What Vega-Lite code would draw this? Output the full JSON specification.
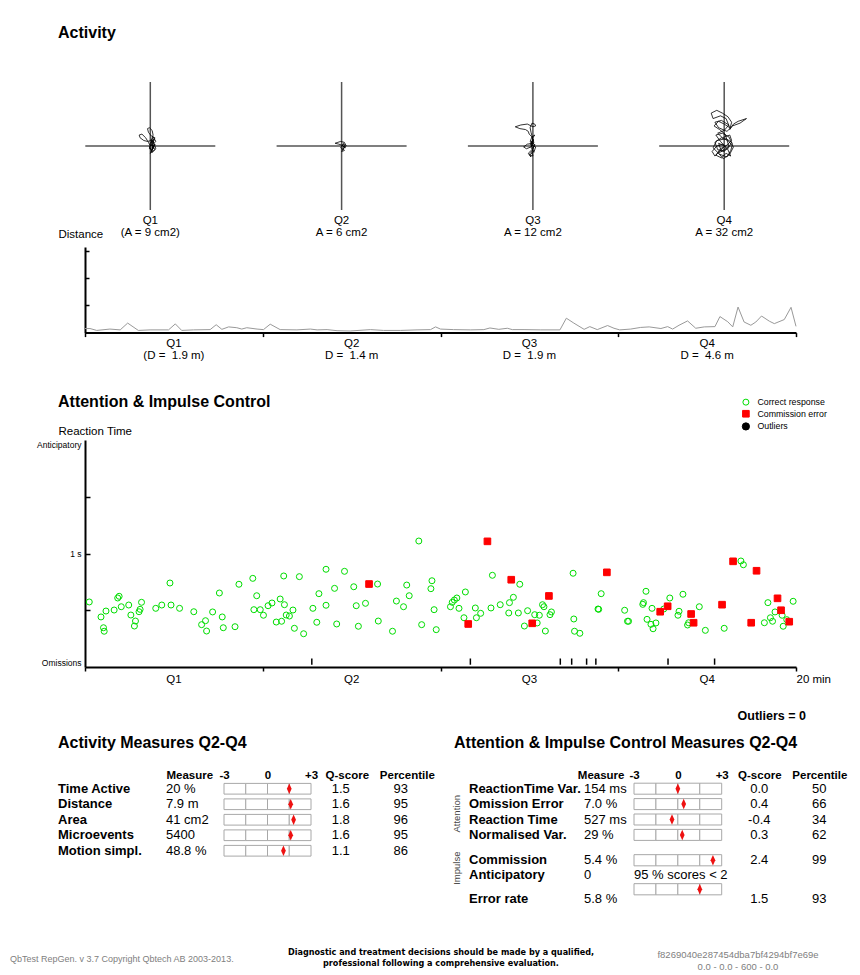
{
"$schema": "https://vega.github.io/schema/vega-lite/v6.json",
"autosize": {"type": "none"},
"padding": {"left": 0, "top": 0, "right": 860, "bottom": 975},
"background": "white",
"config": {"font": "Liberation Sans", "view": {"stroke": null}, "axis": {"grid": false}, "title": {"color": "black"}},
"datasets": {
"trace": [
{"q":"Q1","x":1,"y":0},{"q":"Q1","x":3,"y":6},{"q":"Q1","x":0,"y":3},{"q":"Q1","x":4,"y":8},{"q":"Q1","x":2,"y":-4},{"q":"Q1","x":5,"y":2},{"q":"Q1","x":1,"y":-6},{"q":"Q1","x":4,"y":-1},{"q":"Q1","x":-1,"y":-3},{"q":"Q1","x":3,"y":10},{"q":"Q1","x":6,"y":5},{"q":"Q1","x":2,"y":1},{"q":"Q1","x":5,"y":-4},{"q":"Q1","x":0,"y":-8},{"q":"Q1","x":3,"y":-2},{"q":"Q1","x":1,"y":7},{"q":"Q1","x":4,"y":3},{"q":"Q1","x":6,"y":-3},{"q":"Q1","x":2,"y":-7},{"q":"Q1","x":-1,"y":-1},{"q":"Q1","x":3,"y":4},{"q":"Q1","x":5,"y":9},{"q":"Q1","x":1,"y":11},{"q":"Q1","x":-2,"y":15},{"q":"Q1","x":-3,"y":19},{"q":"Q1","x":-1,"y":20},{"q":"Q1","x":2,"y":17},{"q":"Q1","x":3,"y":12},{"q":"Q1","x":1,"y":6},{"q":"Q1","x":-3,"y":5},{"q":"Q1","x":-7,"y":6},{"q":"Q1","x":-11,"y":9},{"q":"Q1","x":-12,"y":12},{"q":"Q1","x":-9,"y":13},{"q":"Q1","x":-5,"y":9},{"q":"Q1","x":-2,"y":4},{"q":"Q1","x":0,"y":0},{"q":"Q1","x":4,"y":1},{"q":"Q1","x":2,"y":-5},{"q":"Q1","x":0,"y":-2},
{"q":"Q2","x":0,"y":0},{"q":"Q2","x":2,"y":3},{"q":"Q2","x":4,"y":1},{"q":"Q2","x":1,"y":-2},{"q":"Q2","x":3,"y":-5},{"q":"Q2","x":0,"y":-6},{"q":"Q2","x":2,"y":-3},{"q":"Q2","x":5,"y":0},{"q":"Q2","x":3,"y":4},{"q":"Q2","x":-1,"y":5},{"q":"Q2","x":-4,"y":4},{"q":"Q2","x":-7,"y":3},{"q":"Q2","x":-3,"y":2},{"q":"Q2","x":0,"y":1},{"q":"Q2","x":3,"y":-1},{"q":"Q2","x":1,"y":-4},{"q":"Q2","x":-1,"y":-2},{"q":"Q2","x":2,"y":2},{"q":"Q2","x":4,"y":-2},{"q":"Q2","x":1,"y":0},
{"q":"Q3","x":0,"y":0},{"q":"Q3","x":-2,"y":4},{"q":"Q3","x":1,"y":7},{"q":"Q3","x":-3,"y":3},{"q":"Q3","x":0,"y":-3},{"q":"Q3","x":2,"y":2},{"q":"Q3","x":-1,"y":-6},{"q":"Q3","x":-4,"y":-9},{"q":"Q3","x":-2,"y":-12},{"q":"Q3","x":-5,"y":-8},{"q":"Q3","x":-1,"y":-4},{"q":"Q3","x":1,"y":-7},{"q":"Q3","x":3,"y":-1},{"q":"Q3","x":-2,"y":1},{"q":"Q3","x":0,"y":9},{"q":"Q3","x":2,"y":12},{"q":"Q3","x":-1,"y":10},{"q":"Q3","x":-3,"y":5},{"q":"Q3","x":1,"y":3},{"q":"Q3","x":-6,"y":2},{"q":"Q3","x":-10,"y":-1},{"q":"Q3","x":-7,"y":-3},{"q":"Q3","x":-2,"y":-1},{"q":"Q3","x":0,"y":6},{"q":"Q3","x":-1,"y":11},{"q":"Q3","x":-2,"y":15},{"q":"Q3","x":-3,"y":20},{"q":"Q3","x":-1,"y":25},{"q":"Q3","x":2,"y":24},{"q":"Q3","x":3,"y":22},{"q":"Q3","x":0,"y":21},{"q":"Q3","x":-6,"y":24},{"q":"Q3","x":-13,"y":23},{"q":"Q3","x":-19,"y":21},{"q":"Q3","x":-14,"y":19},{"q":"Q3","x":-8,"y":18},{"q":"Q3","x":-5,"y":16},{"q":"Q3","x":-4,"y":13},{"q":"Q3","x":-1,"y":10},{"q":"Q3","x":1,"y":4},{"q":"Q3","x":-2,"y":-2},{"q":"Q3","x":1,"y":-5},{"q":"Q3","x":-3,"y":-10},{"q":"Q3","x":0,"y":-11},{"q":"Q3","x":-1,"y":-6},
{"q":"Q4","x":0,"y":0},{"q":"Q4","x":-6,"y":3},{"q":"Q4","x":-3,"y":-6},{"q":"Q4","x":4,"y":-3},{"q":"Q4","x":8,"y":4},{"q":"Q4","x":2,"y":8},{"q":"Q4","x":-8,"y":6},{"q":"Q4","x":-12,"y":-2},{"q":"Q4","x":-5,"y":-9},{"q":"Q4","x":3,"y":-12},{"q":"Q4","x":7,"y":-5},{"q":"Q4","x":9,"y":2},{"q":"Q4","x":5,"y":10},{"q":"Q4","x":-2,"y":14},{"q":"Q4","x":-9,"y":12},{"q":"Q4","x":-4,"y":5},{"q":"Q4","x":2,"y":-2},{"q":"Q4","x":-6,"y":-8},{"q":"Q4","x":-1,"y":-14},{"q":"Q4","x":6,"y":-9},{"q":"Q4","x":10,"y":-1},{"q":"Q4","x":4,"y":6},{"q":"Q4","x":-3,"y":9},{"q":"Q4","x":-10,"y":4},{"q":"Q4","x":-7,"y":-4},{"q":"Q4","x":0,"y":-6},{"q":"Q4","x":5,"y":0},{"q":"Q4","x":1,"y":13},{"q":"Q4","x":-5,"y":18},{"q":"Q4","x":-11,"y":22},{"q":"Q4","x":-6,"y":27},{"q":"Q4","x":0,"y":24},{"q":"Q4","x":6,"y":20},{"q":"Q4","x":2,"y":30},{"q":"Q4","x":-4,"y":33},{"q":"Q4","x":-12,"y":30},{"q":"Q4","x":-14,"y":36},{"q":"Q4","x":-8,"y":39},{"q":"Q4","x":-2,"y":36},{"q":"Q4","x":4,"y":32},{"q":"Q4","x":8,"y":26},{"q":"Q4","x":6,"y":18},{"q":"Q4","x":10,"y":24},{"q":"Q4","x":15,"y":27},{"q":"Q4","x":24,"y":30},{"q":"Q4","x":17,"y":25},{"q":"Q4","x":9,"y":22},{"q":"Q4","x":3,"y":16},{"q":"Q4","x":-6,"y":20},{"q":"Q4","x":-10,"y":26},{"q":"Q4","x":-3,"y":28},{"q":"Q4","x":5,"y":23},{"q":"Q4","x":0,"y":17},{"q":"Q4","x":-7,"y":14},{"q":"Q4","x":-2,"y":9},{"q":"Q4","x":6,"y":12},{"q":"Q4","x":8,"y":6},{"q":"Q4","x":3,"y":1},{"q":"Q4","x":-4,"y":-3},{"q":"Q4","x":-9,"y":-10},{"q":"Q4","x":-3,"y":-13},{"q":"Q4","x":2,"y":-8},{"q":"Q4","x":7,"y":-11},{"q":"Q4","x":4,"y":-4},{"q":"Q4","x":-1,"y":2},{"q":"Q4","x":-8,"y":0},{"q":"Q4","x":-13,"y":-6},{"q":"Q4","x":-10,"y":-11},{"q":"Q4","x":-4,"y":-5},{"q":"Q4","x":1,"y":0}
],
"dist": [
{"t":0,"d":0.15},{"t":0.14,"d":0.15},{"t":0.33,"d":0.08},{"t":0.7,"d":0.13},{"t":0.99,"d":0.1},{"t":1.2,"d":0.35},{"t":1.5,"d":0.08},{"t":1.83,"d":0.1},{"t":2.35,"d":0.1},{"t":2.54,"d":0.32},{"t":2.72,"d":0.08},{"t":3.05,"d":0.1},{"t":3.52,"d":0.11},{"t":3.69,"d":0.29},{"t":3.85,"d":0.12},{"t":4.04,"d":0.21},{"t":4.27,"d":0.18},{"t":4.41,"d":0.13},{"t":4.55,"d":0.18},{"t":4.84,"d":0.13},{"t":5.02,"d":0.11},{"t":5.21,"d":0.31},{"t":5.49,"d":0.11},{"t":5.96,"d":0.1},{"t":6.34,"d":0.13},{"t":6.53,"d":0.1},{"t":6.81,"d":0.11},{"t":7.09,"d":0.07},{"t":7.46,"d":0.06},{"t":8.03,"d":0.11},{"t":8.4,"d":0.08},{"t":8.87,"d":0.08},{"t":9.34,"d":0.1},{"t":9.72,"d":0.11},{"t":9.86,"d":0.21},{"t":10,"d":0.13},{"t":10.37,"d":0.11},{"t":10.85,"d":0.1},{"t":11.22,"d":0.11},{"t":11.39,"d":0.17},{"t":11.64,"d":0.12},{"t":11.88,"d":0.16},{"t":12.02,"d":0.11},{"t":12.35,"d":0.11},{"t":12.82,"d":0.1},{"t":13.36,"d":0.1},{"t":13.54,"d":0.53},{"t":13.75,"d":0.35},{"t":14.04,"d":0.12},{"t":14.2,"d":0.22},{"t":14.41,"d":0.11},{"t":14.7,"d":0.26},{"t":14.88,"d":0.16},{"t":15.04,"d":0.1},{"t":15.35,"d":0.13},{"t":15.63,"d":0.19},{"t":15.87,"d":0.21},{"t":16.2,"d":0.15},{"t":16.39,"d":0.22},{"t":16.53,"d":0.13},{"t":16.71,"d":0.27},{"t":16.95,"d":0.43},{"t":17.18,"d":0.16},{"t":17.42,"d":0.21},{"t":17.72,"d":0.22},{"t":17.86,"d":0.59},{"t":18.08,"d":0.4},{"t":18.22,"d":0.21},{"t":18.37,"d":0.94},{"t":18.54,"d":0.39},{"t":18.73,"d":0.27},{"t":18.87,"d":0.39},{"t":19.03,"d":0.61},{"t":19.25,"d":0.42},{"t":19.39,"d":0.33},{"t":19.67,"d":0.48},{"t":19.86,"d":0.93},{"t":20,"d":0.23}
],
"rt": [
{"t":0.12,"rt":0.573,"kind":"Correct response"},{"t":0.45,"rt":0.441,"kind":"Correct response"},{"t":0.52,"rt":0.346,"kind":"Correct response"},{"t":0.54,"rt":0.315,"kind":"Correct response"},{"t":0.59,"rt":0.493,"kind":"Correct response"},{"t":0.82,"rt":0.502,"kind":"Correct response"},{"t":0.92,"rt":0.608,"kind":"Correct response"},{"t":0.96,"rt":0.623,"kind":"Correct response"},{"t":1.02,"rt":0.531,"kind":"Correct response"},{"t":1.23,"rt":0.546,"kind":"Correct response"},{"t":1.29,"rt":0.458,"kind":"Correct response"},{"t":1.42,"rt":0.405,"kind":"Correct response"},{"t":1.39,"rt":0.361,"kind":"Correct response"},{"t":1.52,"rt":0.487,"kind":"Correct response"},{"t":1.55,"rt":0.508,"kind":"Correct response"},{"t":1.59,"rt":0.57,"kind":"Correct response"},{"t":1.99,"rt":0.517,"kind":"Correct response"},{"t":2.16,"rt":0.546,"kind":"Correct response"},{"t":2.39,"rt":0.74,"kind":"Correct response"},{"t":2.42,"rt":0.546,"kind":"Correct response"},{"t":2.66,"rt":0.517,"kind":"Correct response"},{"t":3.06,"rt":0.487,"kind":"Correct response"},{"t":3.28,"rt":0.373,"kind":"Correct response"},{"t":3.39,"rt":0.408,"kind":"Correct response"},{"t":3.42,"rt":0.317,"kind":"Correct response"},{"t":3.59,"rt":0.485,"kind":"Correct response"},{"t":3.78,"rt":0.652,"kind":"Correct response"},{"t":3.86,"rt":0.441,"kind":"Correct response"},{"t":3.89,"rt":0.346,"kind":"Correct response"},{"t":4.22,"rt":0.355,"kind":"Correct response"},{"t":4.33,"rt":0.729,"kind":"Correct response"},{"t":4.72,"rt":0.781,"kind":"Correct response"},{"t":4.75,"rt":0.505,"kind":"Correct response"},{"t":4.83,"rt":0.628,"kind":"Correct response"},{"t":4.93,"rt":0.505,"kind":"Correct response"},{"t":5.02,"rt":0.456,"kind":"Correct response"},{"t":5.15,"rt":0.54,"kind":"Correct response"},{"t":5.26,"rt":0.564,"kind":"Correct response"},{"t":5.38,"rt":0.396,"kind":"Correct response"},{"t":5.49,"rt":0.599,"kind":"Correct response"},{"t":5.53,"rt":0.403,"kind":"Correct response"},{"t":5.59,"rt":0.802,"kind":"Correct response"},{"t":5.61,"rt":0.549,"kind":"Correct response"},{"t":5.66,"rt":0.458,"kind":"Correct response"},{"t":5.75,"rt":0.449,"kind":"Correct response"},{"t":5.85,"rt":0.502,"kind":"Correct response"},{"t":5.89,"rt":0.341,"kind":"Correct response"},{"t":6.03,"rt":0.796,"kind":"Correct response"},{"t":6.15,"rt":0.293,"kind":"Correct response"},{"t":6.41,"rt":0.517,"kind":"Correct response"},{"t":6.52,"rt":0.394,"kind":"Correct response"},{"t":6.58,"rt":0.646,"kind":"Correct response"},{"t":6.78,"rt":0.861,"kind":"Correct response"},{"t":6.78,"rt":0.544,"kind":"Correct response"},{"t":7.08,"rt":0.379,"kind":"Correct response"},{"t":7.02,"rt":0.693,"kind":"Correct response"},{"t":7.3,"rt":0.843,"kind":"Correct response"},{"t":7.56,"rt":0.707,"kind":"Correct response"},{"t":7.63,"rt":0.54,"kind":"Correct response"},{"t":7.69,"rt":0.359,"kind":"Correct response"},{"t":7.89,"rt":0.561,"kind":"Correct response"},{"t":8.23,"rt":0.731,"kind":"Correct response"},{"t":8.25,"rt":0.405,"kind":"Correct response"},{"t":8.65,"rt":0.315,"kind":"Correct response"},{"t":8.76,"rt":0.581,"kind":"Correct response"},{"t":8.96,"rt":0.531,"kind":"Correct response"},{"t":9.05,"rt":0.722,"kind":"Correct response"},{"t":9.12,"rt":0.628,"kind":"Correct response"},{"t":9.39,"rt":1.11,"kind":"Correct response"},{"t":9.47,"rt":0.373,"kind":"Correct response"},{"t":9.73,"rt":0.69,"kind":"Correct response"},{"t":9.76,"rt":0.76,"kind":"Correct response"},{"t":9.82,"rt":0.505,"kind":"Correct response"},{"t":9.88,"rt":0.329,"kind":"Correct response"},{"t":10.28,"rt":0.531,"kind":"Correct response"},{"t":10.33,"rt":0.57,"kind":"Correct response"},{"t":10.39,"rt":0.59,"kind":"Correct response"},{"t":10.46,"rt":0.608,"kind":"Correct response"},{"t":10.52,"rt":0.517,"kind":"Correct response"},{"t":10.66,"rt":0.434,"kind":"Correct response"},{"t":10.7,"rt":0.661,"kind":"Correct response"},{"t":10.98,"rt":0.52,"kind":"Correct response"},{"t":11.01,"rt":0.434,"kind":"Correct response"},{"t":11.13,"rt":0.473,"kind":"Correct response"},{"t":11.42,"rt":0.52,"kind":"Correct response"},{"t":11.46,"rt":0.808,"kind":"Correct response"},{"t":11.68,"rt":0.549,"kind":"Correct response"},{"t":11.92,"rt":0.476,"kind":"Correct response"},{"t":11.94,"rt":0.567,"kind":"Correct response"},{"t":12.05,"rt":0.614,"kind":"Correct response"},{"t":12.19,"rt":0.476,"kind":"Correct response"},{"t":12.23,"rt":0.729,"kind":"Correct response"},{"t":12.36,"rt":0.361,"kind":"Correct response"},{"t":12.45,"rt":0.496,"kind":"Correct response"},{"t":12.65,"rt":0.461,"kind":"Correct response"},{"t":12.72,"rt":0.388,"kind":"Correct response"},{"t":12.78,"rt":0.456,"kind":"Correct response"},{"t":12.87,"rt":0.549,"kind":"Correct response"},{"t":12.91,"rt":0.531,"kind":"Correct response"},{"t":12.95,"rt":0.317,"kind":"Correct response"},{"t":13.08,"rt":0.461,"kind":"Correct response"},{"t":13.12,"rt":0.485,"kind":"Correct response"},{"t":13.73,"rt":0.826,"kind":"Correct response"},{"t":13.75,"rt":0.423,"kind":"Correct response"},{"t":13.77,"rt":0.315,"kind":"Correct response"},{"t":13.92,"rt":0.297,"kind":"Correct response"},{"t":14.52,"rt":0.646,"kind":"Correct response"},{"t":14.43,"rt":0.511,"kind":"Correct response"},{"t":14.45,"rt":0.508,"kind":"Correct response"},{"t":15.18,"rt":0.5,"kind":"Correct response"},{"t":15.26,"rt":0.403,"kind":"Correct response"},{"t":15.29,"rt":0.403,"kind":"Correct response"},{"t":15.78,"rt":0.667,"kind":"Correct response"},{"t":15.71,"rt":0.567,"kind":"Correct response"},{"t":15.69,"rt":0.552,"kind":"Correct response"},{"t":15.95,"rt":0.517,"kind":"Correct response"},{"t":15.81,"rt":0.42,"kind":"Correct response"},{"t":15.92,"rt":0.376,"kind":"Correct response"},{"t":16.06,"rt":0.388,"kind":"Correct response"},{"t":15.98,"rt":0.337,"kind":"Correct response"},{"t":16.28,"rt":0.511,"kind":"Correct response"},{"t":16.45,"rt":0.608,"kind":"Correct response"},{"t":16.71,"rt":0.491,"kind":"Correct response"},{"t":16.68,"rt":0.456,"kind":"Correct response"},{"t":16.82,"rt":0.641,"kind":"Correct response"},{"t":16.98,"rt":0.39,"kind":"Correct response"},{"t":16.95,"rt":0.37,"kind":"Correct response"},{"t":17.28,"rt":0.531,"kind":"Correct response"},{"t":17.45,"rt":0.323,"kind":"Correct response"},{"t":17.98,"rt":0.341,"kind":"Correct response"},{"t":18.45,"rt":0.934,"kind":"Correct response"},{"t":18.52,"rt":0.901,"kind":"Correct response"},{"t":19.11,"rt":0.39,"kind":"Correct response"},{"t":19.21,"rt":0.567,"kind":"Correct response"},{"t":19.28,"rt":0.434,"kind":"Correct response"},{"t":19.34,"rt":0.403,"kind":"Correct response"},{"t":19.41,"rt":0.485,"kind":"Correct response"},{"t":19.61,"rt":0.456,"kind":"Correct response"},{"t":19.64,"rt":0.359,"kind":"Correct response"},{"t":19.74,"rt":0.417,"kind":"Correct response"},{"t":19.92,"rt":0.579,"kind":"Correct response"},
{"t":7.99,"rt":0.731,"kind":"Commission error"},{"t":10.78,"rt":0.379,"kind":"Commission error"},{"t":11.32,"rt":1.107,"kind":"Commission error"},{"t":11.99,"rt":0.769,"kind":"Commission error"},{"t":12.58,"rt":0.385,"kind":"Commission error"},{"t":13.05,"rt":0.626,"kind":"Commission error"},{"t":14.68,"rt":0.834,"kind":"Commission error"},{"t":16.18,"rt":0.487,"kind":"Commission error"},{"t":16.39,"rt":0.535,"kind":"Commission error"},{"t":17.05,"rt":0.467,"kind":"Commission error"},{"t":17.12,"rt":0.39,"kind":"Commission error"},{"t":17.92,"rt":0.549,"kind":"Commission error"},{"t":18.23,"rt":0.931,"kind":"Commission error"},{"t":18.89,"rt":0.848,"kind":"Commission error"},{"t":18.74,"rt":0.39,"kind":"Commission error"},{"t":19.48,"rt":0.605,"kind":"Commission error"},{"t":19.58,"rt":0.5,"kind":"Commission error"},{"t":19.81,"rt":0.399,"kind":"Commission error"}
],
"omit": [{"t":6.38},{"t":10.84},{"t":13.37},{"t":13.69},{"t":14.11},{"t":14.37},{"t":16.4},{"t":17.71}],
"actm": [
{"name":"Time Active","measure":"20 %","q":1.5,"qtxt":"1.5","pct":"93"},
{"name":"Distance","measure":"7.9 m","q":1.6,"qtxt":"1.6","pct":"95"},
{"name":"Area","measure":"41 cm2","q":1.8,"qtxt":"1.8","pct":"96"},
{"name":"Microevents","measure":"5400","q":1.6,"qtxt":"1.6","pct":"95"},
{"name":"Motion simpl.","measure":"48.8 %","q":1.1,"qtxt":"1.1","pct":"86"}
],
"attm": [
{"name":"ReactionTime Var.","measure":"154 ms","q":0.0,"qtxt":"0.0","pct":"50"},
{"name":"Omission Error","measure":"7.0 %","q":0.4,"qtxt":"0.4","pct":"66"},
{"name":"Reaction Time","measure":"527 ms","q":-0.4,"qtxt":"-0.4","pct":"34"},
{"name":"Normalised Var.","measure":"29 %","q":0.3,"qtxt":"0.3","pct":"62"}
],
"imp": [
{"name":"Commission","measure":"5.4 %","q":2.4,"qtxt":"2.4","pct":"99"},
{"name":"Anticipatory","measure":"0","note":"95 % scores < 2"},
{"name":"Error rate","measure":"5.8 %","q":1.5,"qtxt":"1.5","pct":"93"}
]
},
"spacing": 0,
"bounds": "flush",
"vconcat": [
{"width": 860, "height": 82, "data": {"values": []}, "mark": "point",
 "title": {"text": "Activity", "orient": "bottom", "anchor": "start", "dx": 58, "offset": -57.5, "baseline": "top", "fontSize": 16, "fontWeight": "bold"}},
{"spacing": 61.3, "bounds": "flush", "hconcat": [
 {"width": 23.7, "height": 1, "data": {"values": []}, "mark": "point"},
 {"width": 130, "height": 128,
  "title": {"text": ["Q1", "(A = 9 cm2)"], "orient": "bottom", "anchor": "middle", "baseline": "top", "offset": 4.5, "fontSize": 11.5, "fontWeight": "normal", "lineHeight": 12},
  "layer": [
   {"data": {"values": [{}]}, "mark": {"type": "rule", "color": "#555555", "strokeWidth": 1.5}, "encoding": {"y": {"datum": 0, "type": "quantitative", "scale": {"domain": [-64, 64]}, "axis": null}}},
   {"data": {"values": [{}]}, "mark": {"type": "rule", "color": "#555555", "strokeWidth": 1.5}, "encoding": {"x": {"datum": 0, "type": "quantitative", "scale": {"domain": [-65, 65]}, "axis": null}}},
   {"data": {"name": "trace"}, "transform": [{"filter": "datum.q === 'Q1'"}], "mark": {"type": "line", "color": "black", "strokeWidth": 0.8},
    "encoding": {"x": {"field": "x", "type": "quantitative", "axis": null}, "y": {"field": "y", "type": "quantitative", "axis": null}, "order": {"value": null}}}
  ]},
 {"width": 130, "height": 128,
  "title": {"text": ["Q2", "A = 6 cm2"], "orient": "bottom", "anchor": "middle", "baseline": "top", "offset": 4.5, "fontSize": 11.5, "fontWeight": "normal", "lineHeight": 12},
  "layer": [
   {"data": {"values": [{}]}, "mark": {"type": "rule", "color": "#555555", "strokeWidth": 1.5}, "encoding": {"y": {"datum": 0, "type": "quantitative", "scale": {"domain": [-64, 64]}, "axis": null}}},
   {"data": {"values": [{}]}, "mark": {"type": "rule", "color": "#555555", "strokeWidth": 1.5}, "encoding": {"x": {"datum": 0, "type": "quantitative", "scale": {"domain": [-65, 65]}, "axis": null}}},
   {"data": {"name": "trace"}, "transform": [{"filter": "datum.q === 'Q2'"}], "mark": {"type": "line", "color": "black", "strokeWidth": 0.8},
    "encoding": {"x": {"field": "x", "type": "quantitative", "axis": null}, "y": {"field": "y", "type": "quantitative", "axis": null}, "order": {"value": null}}}
  ]},
 {"width": 130, "height": 128,
  "title": {"text": ["Q3", "A = 12 cm2"], "orient": "bottom", "anchor": "middle", "baseline": "top", "offset": 4.5, "fontSize": 11.5, "fontWeight": "normal", "lineHeight": 12},
  "layer": [
   {"data": {"values": [{}]}, "mark": {"type": "rule", "color": "#555555", "strokeWidth": 1.5}, "encoding": {"y": {"datum": 0, "type": "quantitative", "scale": {"domain": [-64, 64]}, "axis": null}}},
   {"data": {"values": [{}]}, "mark": {"type": "rule", "color": "#555555", "strokeWidth": 1.5}, "encoding": {"x": {"datum": 0, "type": "quantitative", "scale": {"domain": [-65, 65]}, "axis": null}}},
   {"data": {"name": "trace"}, "transform": [{"filter": "datum.q === 'Q3'"}], "mark": {"type": "line", "color": "black", "strokeWidth": 0.8},
    "encoding": {"x": {"field": "x", "type": "quantitative", "axis": null}, "y": {"field": "y", "type": "quantitative", "axis": null}, "order": {"value": null}}}
  ]},
 {"width": 130, "height": 128,
  "title": {"text": ["Q4", "A = 32 cm2"], "orient": "bottom", "anchor": "middle", "baseline": "top", "offset": 4.5, "fontSize": 11.5, "fontWeight": "normal", "lineHeight": 12},
  "layer": [
   {"data": {"values": [{}]}, "mark": {"type": "rule", "color": "#555555", "strokeWidth": 1.5}, "encoding": {"y": {"datum": 0, "type": "quantitative", "scale": {"domain": [-64, 64]}, "axis": null}}},
   {"data": {"values": [{}]}, "mark": {"type": "rule", "color": "#555555", "strokeWidth": 1.5}, "encoding": {"x": {"datum": 0, "type": "quantitative", "scale": {"domain": [-65, 65]}, "axis": null}}},
   {"data": {"name": "trace"}, "transform": [{"filter": "datum.q === 'Q4'"}], "mark": {"type": "line", "color": "black", "strokeWidth": 0.8},
    "encoding": {"x": {"field": "x", "type": "quantitative", "axis": null}, "y": {"field": "y", "type": "quantitative", "axis": null}, "order": {"value": null}}}
  ]}
]},
{"width": 860, "height": 164.7, "data": {"values": []}, "mark": "point"},
{"spacing": 0, "bounds": "flush", "hconcat": [
 {"width": 85, "height": 1, "data": {"values": []}, "mark": "point"},
 {"width": 711, "height": 85.6, "layer": [
  {"data": {"name": "dist"}, "mark": {"type": "line", "color": "#999999", "strokeWidth": 1},
   "encoding": {
    "x": {"field": "t", "type": "quantitative", "scale": {"domain": [0, 20], "nice": false, "zero": false},
          "axis": {"values": [0, 5, 10, 15, 20], "labels": false, "title": null, "domainColor": "black", "domainWidth": 2, "tickColor": "black", "tickWidth": 1.5, "tickSize": 4}},
    "y": {"field": "d", "type": "quantitative", "scale": {"domain": [0, 3.15], "nice": false},
          "axis": {"values": [1, 2, 3], "labels": false, "tickSize": -4, "tickColor": "black", "tickWidth": 1.5, "domainColor": "black", "domainWidth": 2,
                   "title": "Distance", "titleAngle": 0, "titleX": -27, "titleY": -10, "titleAlign": "left", "titleBaseline": "alphabetic", "titleFontSize": 11.5, "titleFontWeight": "normal", "titleColor": "black"}}
   }},
  {"data": {"values": [{"t": 2.5, "label": ["Q1", "(D = \u00a01.9 m)"]}, {"t": 7.5, "label": ["Q2", "D = \u00a01.4 m"]}, {"t": 12.5, "label": ["Q3", "D = \u00a01.9 m"]}, {"t": 17.5, "label": ["Q4", "D = \u00a04.6 m"]}]},
   "mark": {"type": "text", "baseline": "top", "dy": 5.3, "fontSize": 11.5, "lineHeight": 12, "color": "black"},
   "encoding": {"x": {"field": "t", "type": "quantitative"}, "y": {"datum": 0, "type": "quantitative"}, "text": {"field": "label"}}}
 ]}
]},
{"width": 860, "height": 192.3, "data": {"values": []}, "mark": "point",
 "title": {"text": "Attention & Impulse Control", "orient": "bottom", "anchor": "start", "dx": 58, "offset": -45.5, "baseline": "top", "fontSize": 16, "fontWeight": "bold"}},
{"spacing": 0, "bounds": "flush", "hconcat": [
 {"width": 85, "height": 1, "data": {"values": []}, "mark": "point"},
 {"width": 711, "height": 227, "layer": [
  {"data": {"name": "rt"}, "mark": {"type": "point", "strokeWidth": 1, "opacity": 1},
   "encoding": {
    "x": {"field": "t", "type": "quantitative", "scale": {"domain": [0, 20], "nice": false, "zero": false},
          "axis": {"values": [0, 5, 10, 15, 20], "labels": false, "domainColor": "black", "domainWidth": 2, "tickColor": "black", "tickWidth": 1.5, "tickSize": 4,
                   "title": "20 min", "titleX": 711, "titleY": 15.7, "titleAlign": "left", "titleBaseline": "alphabetic", "titleFontSize": 11.5, "titleFontWeight": "normal", "titleColor": "black"}},
    "y": {"field": "rt", "type": "quantitative", "scale": {"domain": [0, 2], "nice": false},
          "axis": {"values": [0, 0.5, 1, 1.5, 2], "labelExpr": "datum.value === 0 ? 'Omissions' : datum.value === 1 ? '1 s' : datum.value === 2 ? 'Anticipatory' : ''",
                   "labelFlush": true, "labelFlushOffset": 0, "labelFontSize": 8.5, "labelColor": "black", "labelPadding": 9, "labelOverlap": false,
                   "tickSize": -5, "tickColor": "black", "tickWidth": 1.5, "tickOpacity": {"condition": {"test": "datum.value === 0 || datum.value === 2", "value": 0}, "value": 1},
                   "domainColor": "black", "domainWidth": 2,
                   "title": "Reaction Time", "titleAngle": 0, "titleX": -27, "titleY": -6, "titleAlign": "left", "titleBaseline": "alphabetic", "titleFontSize": 11.5, "titleFontWeight": "normal", "titleColor": "black"}},
    "shape": {"field": "kind", "type": "nominal", "scale": {"domain": ["Correct response", "Commission error", "Outliers"], "range": ["circle", "square", "circle"]},
              "legend": {"orient": "none", "legendX": 741.4, "legendY": 397.75, "direction": "vertical", "title": null, "padding": 0, "labelFontSize": 8.8, "labelOffset": 7, "rowPadding": 0.6, "symbolStrokeWidth": 1, "labelColor": "black", "labelBaseline": "middle"}},
    "stroke": {"field": "kind", "type": "nominal", "scale": {"domain": ["Correct response", "Commission error", "Outliers"], "range": ["#00dd00", "#ff0000", "#000000"]},
              "legend": {"orient": "none", "legendX": 741.4, "legendY": 397.75, "direction": "vertical", "title": null, "padding": 0, "labelFontSize": 8.8, "labelOffset": 7, "rowPadding": 0.6, "symbolStrokeWidth": 1, "labelColor": "black", "labelBaseline": "middle"}},
    "fill": {"field": "kind", "type": "nominal", "scale": {"domain": ["Correct response", "Commission error", "Outliers"], "range": ["transparent", "#ff0000", "#000000"]},
              "legend": {"orient": "none", "legendX": 741.4, "legendY": 397.75, "direction": "vertical", "title": null, "padding": 0, "labelFontSize": 8.8, "labelOffset": 7, "rowPadding": 0.6, "symbolStrokeWidth": 1, "labelColor": "black", "labelBaseline": "middle"}},
    "size": {"field": "kind", "type": "nominal", "scale": {"domain": ["Correct response", "Commission error", "Outliers"], "range": [36, 52, 20]},
              "legend": {"orient": "none", "legendX": 741.4, "legendY": 397.75, "direction": "vertical", "title": null, "padding": 0, "labelFontSize": 8.8, "labelOffset": 7, "rowPadding": 0.6, "symbolStrokeWidth": 1, "labelColor": "black", "labelBaseline": "middle"}}
   }},
  {"data": {"name": "omit"}, "mark": {"type": "rule", "color": "black", "strokeWidth": 1.5},
   "encoding": {"x": {"field": "t", "type": "quantitative"}, "y": {"datum": 0.02, "type": "quantitative"}, "y2": {"datum": 0.075}}},
  {"data": {"values": [{"t": 2.5, "label": "Q1"}, {"t": 7.5, "label": "Q2"}, {"t": 12.5, "label": "Q3"}, {"t": 17.5, "label": "Q4"}]},
   "mark": {"type": "text", "baseline": "alphabetic", "dy": 15.7, "fontSize": 11.5, "color": "black"},
   "encoding": {"x": {"field": "t", "type": "quantitative"}, "y": {"datum": 0, "type": "quantitative"}, "text": {"field": "label"}}}
 ]}
]},
{"width": 806, "height": 285, "data": {"values": []}, "mark": "point",
 "title": {"text": "Outliers = 0", "orient": "bottom", "anchor": "end", "offset": -15.5, "baseline": "top", "fontSize": 12.5, "fontWeight": "bold"}},
{"spacing": 0, "bounds": "flush", "hconcat": [
 {"width": 454, "height": 56, "data": {"values": []}, "mark": "point",
  "title": {"text": "Activity Measures Q2-Q4", "orient": "bottom", "anchor": "start", "dx": 58, "offset": -46, "baseline": "top", "fontSize": 16, "fontWeight": "bold"}},
 {"width": 406, "height": 56, "data": {"values": []}, "mark": "point",
  "title": {"text": "Attention & Impulse Control Measures Q2-Q4", "orient": "bottom", "anchor": "start", "offset": -46, "baseline": "top", "fontSize": 16, "fontWeight": "bold"}}
]},
{"width": 860, "height": 56, "data": {"values": []}, "mark": "point"},
{"spacing": 0, "bounds": "flush", "hconcat": [
 {"width": 58, "height": 1, "data": {"values": []}, "mark": "point"},
 {"width": 166, "height": 77.5, "data": {"name": "actm"}, "layer": [
  {"mark": {"type": "text", "align": "left", "baseline": "middle", "fontSize": 13, "fontWeight": "bold", "color": "black"},
   "encoding": {
    "x": {"datum": "Name", "type": "nominal", "scale": {"type": "point", "domain": ["Name", "Measure"], "range": [0, 108], "padding": 0},
          "axis": {"orient": "top", "labelExpr": "datum.value === 'Measure' ? 'Measure' : ''", "domain": false, "ticks": false, "tickSize": 0, "labelPadding": 3, "labelFontSize": 11.5, "labelFontWeight": "bold", "labelAlign": "left", "labelBaseline": "alphabetic", "labelColor": "black", "labelAngle": 0, "title": null}},
    "y": {"field": "name", "type": "nominal", "scale": {"type": "band", "domain": ["Time Active", "Distance", "Area", "Microevents", "Motion simpl."], "paddingInner": 0.31, "paddingOuter": 0.155}, "axis": null},
    "text": {"field": "name"}}},
  {"mark": {"type": "text", "align": "left", "baseline": "middle", "fontSize": 13, "color": "black"},
   "encoding": {"x": {"datum": "Measure", "type": "nominal"}, "y": {"field": "name", "type": "nominal", "axis": null}, "text": {"field": "measure"}}}
 ]},
 {"width": 87, "height": 77.5, "data": {"name": "actm"}, "layer": [
  {"mark": {"type": "rect", "fill": "white", "stroke": "#a8a8a8", "strokeWidth": 1},
   "encoding": {"x": {"datum": -3, "type": "quantitative", "scale": {"domain": [-3, 3], "nice": false, "zero": false},
                      "axis": {"orient": "top", "values": [-3, 0, 3], "labelExpr": "datum.value < 0 ? '-3' : datum.value > 0 ? '+3' : '0'", "labelFlush": false, "labelOverlap": false, "domain": false, "ticks": false, "tickSize": 0, "labelPadding": 3, "labelFontSize": 11.5, "labelFontWeight": "bold", "labelBaseline": "alphabetic", "labelColor": "black", "title": null}},
                "x2": {"datum": -1.5},
                "y": {"field": "name", "type": "nominal", "scale": {"type": "band", "domain": ["Time Active", "Distance", "Area", "Microevents", "Motion simpl."], "paddingInner": 0.31, "paddingOuter": 0.155}, "axis": null}}},
  {"mark": {"type": "rect", "fill": "white", "stroke": "#a8a8a8", "strokeWidth": 1},
   "encoding": {"x": {"datum": -1.5, "type": "quantitative"}, "x2": {"datum": 0}, "y": {"field": "name", "type": "nominal", "axis": null}}},
  {"mark": {"type": "rect", "fill": "white", "stroke": "#a8a8a8", "strokeWidth": 1},
   "encoding": {"x": {"datum": 0, "type": "quantitative"}, "x2": {"datum": 1.5}, "y": {"field": "name", "type": "nominal", "axis": null}}},
  {"mark": {"type": "rect", "fill": "white", "stroke": "#a8a8a8", "strokeWidth": 1},
   "encoding": {"x": {"datum": 1.5, "type": "quantitative"}, "x2": {"datum": 3}, "y": {"field": "name", "type": "nominal", "axis": null}}},
  {"mark": {"type": "point", "shape": "M0,-1L0.45,0L0,1L-0.45,0Z", "filled": true, "color": "#ee1111", "size": 110, "opacity": 1},
   "encoding": {"x": {"field": "q", "type": "quantitative"}, "y": {"field": "name", "type": "nominal", "axis": null}}}
 ]},
 {"width": 129, "height": 77.5, "data": {"name": "actm"}, "layer": [
  {"mark": {"type": "text", "align": "center", "baseline": "middle", "fontSize": 13, "color": "black"},
   "encoding": {
    "x": {"datum": "Q-score", "type": "nominal", "scale": {"type": "point", "domain": ["Q-score", "Percentile"], "range": [29.8, 89.8], "padding": 0},
          "axis": {"orient": "top", "domain": false, "ticks": false, "tickSize": 0, "labelPadding": 3, "labelFontSize": 11.5, "labelFontWeight": "bold", "labelBaseline": "alphabetic", "labelOffset": 6, "labelColor": "black", "labelAngle": 0, "title": null}},
    "y": {"field": "name", "type": "nominal", "scale": {"type": "band", "domain": ["Time Active", "Distance", "Area", "Microevents", "Motion simpl."], "paddingInner": 0.31, "paddingOuter": 0.155}, "axis": null},
    "text": {"field": "qtxt"}}},
  {"mark": {"type": "text", "align": "center", "baseline": "middle", "fontSize": 13, "color": "black"},
   "encoding": {"x": {"datum": "Percentile", "type": "nominal"}, "y": {"field": "name", "type": "nominal", "axis": null}, "text": {"field": "pct"}}}
 ]},
 {"width": 29, "height": 1, "data": {"values": []}, "mark": "point"},
 {"spacing": 0, "bounds": "flush", "vconcat": [
  {"spacing": 0, "bounds": "flush", "hconcat": [
   {"width": 165, "height": 61.6, "data": {"name": "attm"}, "layer": [
    {"mark": {"type": "text", "align": "left", "baseline": "middle", "fontSize": 13, "fontWeight": "bold", "color": "black"},
     "encoding": {
      "x": {"datum": "Name", "type": "nominal", "scale": {"type": "point", "domain": ["Name", "Measure"], "range": [0, 115], "padding": 0},
            "axis": {"orient": "top", "labelExpr": "datum.value === 'Measure' ? 'Measure' : ''", "domain": false, "ticks": false, "tickSize": 0, "labelPadding": 3, "labelFontSize": 11.5, "labelFontWeight": "bold", "labelAlign": "left", "labelBaseline": "alphabetic", "labelOffset": -6.7, "labelColor": "black", "labelAngle": 0, "title": null}},
      "y": {"field": "name", "type": "nominal", "scale": {"type": "band", "domain": ["ReactionTime Var.", "Omission Error", "Reaction Time", "Normalised Var."], "paddingInner": 0.286, "paddingOuter": 0.143},
            "axis": {"labels": false, "ticks": false, "domain": false, "title": "Attention", "titleX": -12.3, "titleY": 32.3, "titleAngle": -90, "titleAlign": "center", "titleBaseline": "middle", "titleFontSize": 9.5, "titleFontWeight": "normal", "titleColor": "#444444"}},
      "text": {"field": "name"}}},
    {"mark": {"type": "text", "align": "left", "baseline": "middle", "fontSize": 13, "color": "black"},
     "encoding": {"x": {"datum": "Measure", "type": "nominal"}, "y": {"field": "name", "type": "nominal"}, "text": {"field": "measure"}}}
   ]},
   {"width": 87.7, "height": 61.6, "data": {"name": "attm"}, "layer": [
    {"mark": {"type": "rect", "fill": "white", "stroke": "#a8a8a8", "strokeWidth": 1},
     "encoding": {"x": {"datum": -3, "type": "quantitative", "scale": {"domain": [-3, 3], "nice": false, "zero": false},
                        "axis": {"orient": "top", "values": [-3, 0, 3], "labelExpr": "datum.value < 0 ? '-3' : datum.value > 0 ? '+3' : '0'", "labelFlush": false, "labelOverlap": false, "domain": false, "ticks": false, "tickSize": 0, "labelPadding": 3, "labelFontSize": 11.5, "labelFontWeight": "bold", "labelBaseline": "alphabetic", "labelColor": "black", "title": null}},
                  "x2": {"datum": -1.5},
                  "y": {"field": "name", "type": "nominal", "scale": {"type": "band", "domain": ["ReactionTime Var.", "Omission Error", "Reaction Time", "Normalised Var."], "paddingInner": 0.286, "paddingOuter": 0.143}, "axis": null}}},
    {"mark": {"type": "rect", "fill": "white", "stroke": "#a8a8a8", "strokeWidth": 1},
     "encoding": {"x": {"datum": -1.5, "type": "quantitative"}, "x2": {"datum": 0}, "y": {"field": "name", "type": "nominal", "axis": null}}},
    {"mark": {"type": "rect", "fill": "white", "stroke": "#a8a8a8", "strokeWidth": 1},
     "encoding": {"x": {"datum": 0, "type": "quantitative"}, "x2": {"datum": 1.5}, "y": {"field": "name", "type": "nominal", "axis": null}}},
    {"mark": {"type": "rect", "fill": "white", "stroke": "#a8a8a8", "strokeWidth": 1},
     "encoding": {"x": {"datum": 1.5, "type": "quantitative"}, "x2": {"datum": 3}, "y": {"field": "name", "type": "nominal", "axis": null}}},
    {"mark": {"type": "point", "shape": "M0,-1L0.45,0L0,1L-0.45,0Z", "filled": true, "color": "#ee1111", "size": 110, "opacity": 1},
     "encoding": {"x": {"field": "q", "type": "quantitative"}, "y": {"field": "name", "type": "nominal", "axis": null}}}
   ]},
   {"width": 138.3, "height": 61.6, "data": {"name": "attm"}, "layer": [
    {"mark": {"type": "text", "align": "center", "baseline": "middle", "fontSize": 13, "color": "black"},
     "encoding": {
      "x": {"datum": "Q-score", "type": "nominal", "scale": {"type": "point", "domain": ["Q-score", "Percentile"], "range": [37.3, 97.3], "padding": 0},
            "axis": {"orient": "top", "domain": false, "ticks": false, "tickSize": 0, "labelPadding": 3, "labelFontSize": 11.5, "labelFontWeight": "bold", "labelBaseline": "alphabetic", "labelColor": "black", "labelAngle": 0, "title": null}},
      "y": {"field": "name", "type": "nominal", "scale": {"type": "band", "domain": ["ReactionTime Var.", "Omission Error", "Reaction Time", "Normalised Var."], "paddingInner": 0.286, "paddingOuter": 0.143}, "axis": null},
      "text": {"field": "qtxt"}}},
    {"mark": {"type": "text", "align": "center", "baseline": "middle", "fontSize": 13, "color": "black"},
     "encoding": {"x": {"datum": "Percentile", "type": "nominal"}, "y": {"field": "name", "type": "nominal", "axis": null}, "text": {"field": "pct"}}}
   ]}
  ]},
  {"width": 1, "height": 71.05, "data": {"values": []}, "mark": "point"},
  {"spacing": 0, "bounds": "flush", "hconcat": [
   {"width": 165, "height": 43.5, "data": {"name": "imp"}, "layer": [
    {"mark": {"type": "text", "align": "left", "baseline": "middle", "fontSize": 13, "fontWeight": "bold", "color": "black", "dy": {"expr": "datum.name === 'Error rate' ? 10 : 0"}},
     "encoding": {
      "x": {"datum": "Name", "type": "nominal", "scale": {"type": "point", "domain": ["Name", "Measure"], "range": [0, 115], "padding": 0}, "axis": null},
      "y": {"field": "name", "type": "nominal", "scale": {"type": "band", "domain": ["Commission", "Anticipatory", "Error rate"], "paddingInner": 0.23, "paddingOuter": 0.115},
            "axis": {"labels": false, "ticks": false, "domain": false, "title": "Impulse", "titleX": -12.3, "titleY": 14.65, "titleAngle": -90, "titleAlign": "center", "titleBaseline": "middle", "titleFontSize": 9.5, "titleFontWeight": "normal", "titleColor": "#444444"}},
      "text": {"field": "name"}}},
    {"mark": {"type": "text", "align": "left", "baseline": "middle", "fontSize": 13, "color": "black", "dy": {"expr": "datum.name === 'Error rate' ? 10 : 0"}},
     "encoding": {"x": {"datum": "Measure", "type": "nominal", "axis": null}, "y": {"field": "name", "type": "nominal"}, "text": {"field": "measure"}}}
   ]},
   {"width": 87.7, "height": 43.5, "data": {"name": "imp"}, "layer": [
    {"transform": [{"filter": "isValid(datum.q)"}], "mark": {"type": "rect", "fill": "white", "stroke": "#a8a8a8", "strokeWidth": 1},
     "encoding": {"x": {"datum": -3, "type": "quantitative", "scale": {"domain": [-3, 3], "nice": false, "zero": false}, "axis": null},
                  "x2": {"datum": -1.5},
                  "y": {"field": "name", "type": "nominal", "scale": {"type": "band", "domain": ["Commission", "Anticipatory", "Error rate"], "paddingInner": 0.23, "paddingOuter": 0.115}, "axis": null}}},
    {"transform": [{"filter": "isValid(datum.q)"}], "mark": {"type": "rect", "fill": "white", "stroke": "#a8a8a8", "strokeWidth": 1},
     "encoding": {"x": {"datum": -1.5, "type": "quantitative", "axis": null}, "x2": {"datum": 0}, "y": {"field": "name", "type": "nominal", "axis": null}}},
    {"transform": [{"filter": "isValid(datum.q)"}], "mark": {"type": "rect", "fill": "white", "stroke": "#a8a8a8", "strokeWidth": 1},
     "encoding": {"x": {"datum": 0, "type": "quantitative", "axis": null}, "x2": {"datum": 1.5}, "y": {"field": "name", "type": "nominal", "axis": null}}},
    {"transform": [{"filter": "isValid(datum.q)"}], "mark": {"type": "rect", "fill": "white", "stroke": "#a8a8a8", "strokeWidth": 1},
     "encoding": {"x": {"datum": 1.5, "type": "quantitative", "axis": null}, "x2": {"datum": 3}, "y": {"field": "name", "type": "nominal", "axis": null}}},
    {"transform": [{"filter": "isValid(datum.q)"}], "mark": {"type": "point", "shape": "M0,-1L0.45,0L0,1L-0.45,0Z", "filled": true, "color": "#ee1111", "size": 110, "opacity": 1},
     "encoding": {"x": {"field": "q", "type": "quantitative", "axis": null}, "y": {"field": "name", "type": "nominal", "axis": null}}},
    {"transform": [{"filter": "isValid(datum.note)"}], "mark": {"type": "text", "align": "left", "baseline": "middle", "fontSize": 13, "color": "black"},
     "encoding": {"x": {"datum": -3, "type": "quantitative", "axis": null}, "y": {"field": "name", "type": "nominal", "axis": null}, "text": {"field": "note"}}}
   ]},
   {"width": 138.3, "height": 43.5, "data": {"name": "imp"}, "transform": [{"filter": "isValid(datum.qtxt)"}], "layer": [
    {"mark": {"type": "text", "align": "center", "baseline": "middle", "fontSize": 13, "color": "black", "dy": {"expr": "datum.name === 'Error rate' ? 10 : 0"}},
     "encoding": {
      "x": {"datum": "Q-score", "type": "nominal", "scale": {"type": "point", "domain": ["Q-score", "Percentile"], "range": [37.3, 97.3], "padding": 0}, "axis": null},
      "y": {"field": "name", "type": "nominal", "scale": {"type": "band", "domain": ["Commission", "Anticipatory", "Error rate"], "paddingInner": 0.23, "paddingOuter": 0.115}, "axis": null},
      "text": {"field": "qtxt"}}},
    {"mark": {"type": "text", "align": "center", "baseline": "middle", "fontSize": 13, "color": "black", "dy": {"expr": "datum.name === 'Error rate' ? 10 : 0"}},
     "encoding": {"x": {"datum": "Percentile", "type": "nominal", "axis": null}, "y": {"field": "name", "type": "nominal", "axis": null}, "text": {"field": "pct"}}}
   ]}
  ]}
 ]}
]},
{"width": 860, "height": 160, "data": {"values": []}, "mark": "point"},
{"spacing": 0, "bounds": "flush", "hconcat": [
 {"width": 282, "height": 30, "data": {"values": []}, "mark": "point",
  "title": {"text": "QbTest RepGen. v 3.7 Copyright Qbtech AB 2003-2013.", "orient": "bottom", "anchor": "start", "dx": 10, "offset": -16, "baseline": "top", "fontSize": 9, "fontWeight": "normal", "color": "#808080"}},
 {"width": 318, "height": 30, "data": {"values": []}, "mark": "point",
  "title": {"text": ["Diagnostic and treatment decisions should be made by a qualified,", "professional following a comprehensive evaluation."], "orient": "bottom", "anchor": "middle", "offset": -23, "baseline": "top", "fontSize": 9, "fontWeight": "bold", "font": "Liberation Sans Narrow, Arial Narrow, DejaVu Sans Condensed, sans-serif", "lineHeight": 11, "color": "black"}},
 {"width": 276, "height": 30, "data": {"values": []}, "mark": "point",
  "title": {"text": ["f8269040e287454dba7bf4294bf7e69e", "0.0 - 0.0 - 600 - 0.0"], "orient": "bottom", "anchor": "middle", "offset": -21.5, "baseline": "top", "fontSize": 9.5, "fontWeight": "normal", "lineHeight": 12, "color": "#808080"}}
]}
]
}
